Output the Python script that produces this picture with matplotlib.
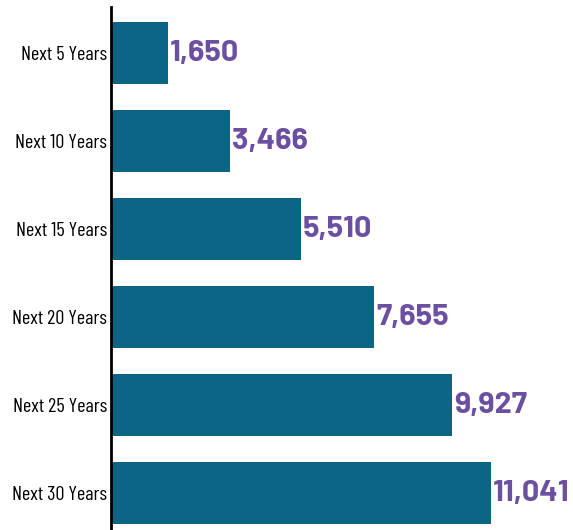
import matplotlib
matplotlib.use('Agg')
import matplotlib.pyplot as plt

# data
periods = ['Next 5 Years', 'Next 10 Years', 'Next 15 Years',
           'Next 20 Years', 'Next 25 Years', 'Next 30 Years']
values = [1650, 3466, 5510, 7655, 9927, 11041]

bar_col = '#0d6585'
lab_col = '#6b4fa0'

fig = plt.figure(figsize=(5.73, 5.30), dpi=100)
ax = fig.add_axes([111 / 573, 0, 1 - 111 / 573, 1 - 7 / 530])

ypos = list(range(len(periods)))
ax.barh(ypos, values, height=0.70, color=bar_col)
for y, v in zip(ypos, values):
    ax.text(v + 50, y, f'{v:,}', va='center', ha='left', color=lab_col,
            fontsize=22, fontweight='bold',
            family=['Barlow', 'DejaVu Sans'])

ax.set_xlim(0, 13430)
ax.set_ylim(5.42, -0.523)
ax.set_yticks(ypos)
ax.set_yticklabels(periods, fontsize=14.5, family=['Barlow Condensed', 'DejaVu Sans'])
ax.tick_params(axis='y', length=0, pad=3)
ax.set_xticks([])
for s in ['top', 'right', 'bottom']:
    ax.spines[s].set_visible(False)
ax.spines['left'].set_linewidth(2)

fig.savefig('out.png', dpi=100)
